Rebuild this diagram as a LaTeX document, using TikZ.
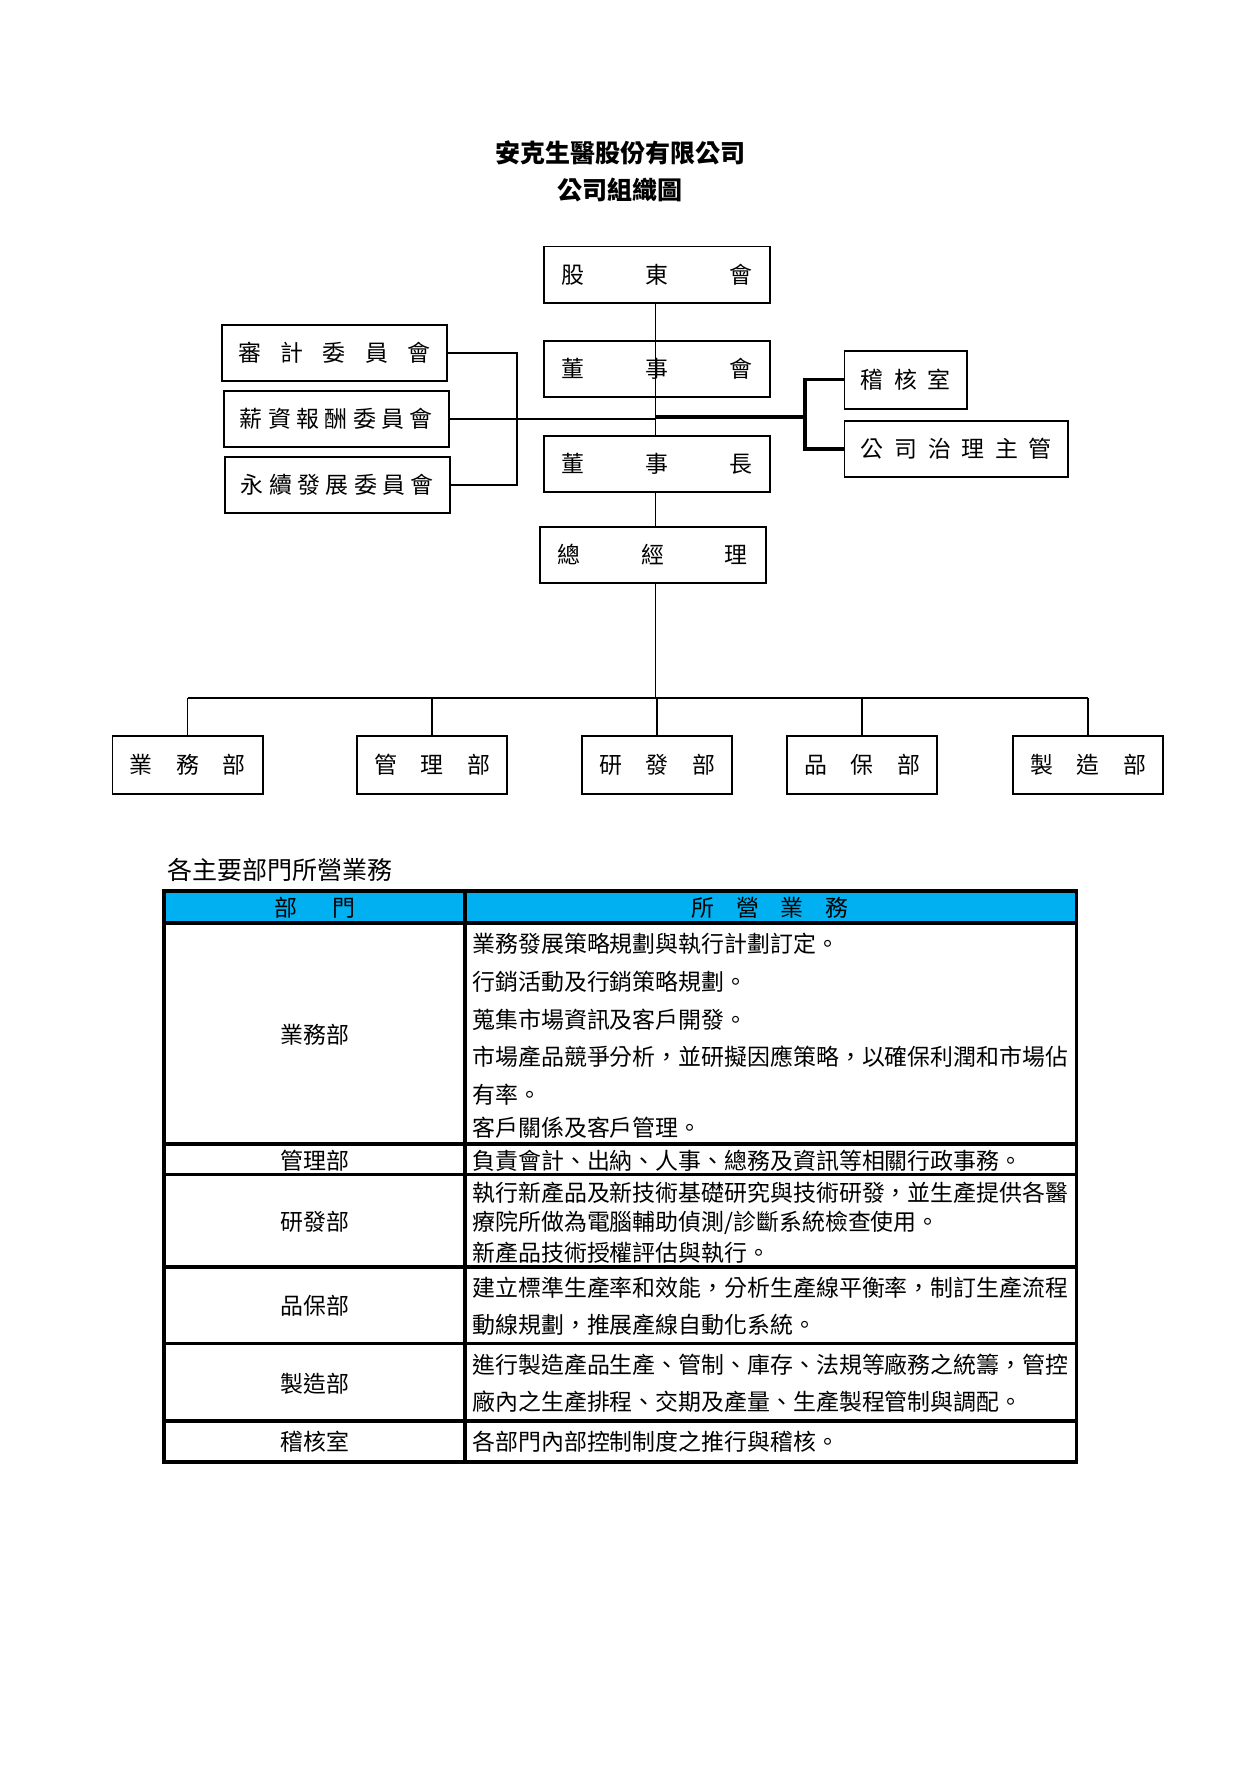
\documentclass[tikz,border=0pt]{standalone}
\usepackage{fontspec}
\newfontfamily\cjk{Noto Sans CJK TC}
\usetikzlibrary{calc}
\definecolor{headblue}{RGB}{0,176,240}
\begin{document}
\begin{tikzpicture}[x=0.48pt,y=-0.48pt,
  orgbox/.style={draw, line width=0.8pt, inner sep=0pt, anchor=north west,
    font=\cjk\fontsize{11pt}{13pt}\selectfont, text height=9.1pt, text depth=0.7pt},
  mainbox/.style={orgbox, minimum width=108.5pt, minimum height=27.1pt},
  combox/.style={orgbox, minimum width=108pt, minimum height=26.9pt},
  deptbox/.style={orgbox, minimum width=72.2pt, minimum height=27.8pt},
  conn/.style={line width=0.8pt},
  thickconn/.style={line width=1.6pt},
  tbl/.style={line width=1.6pt},
  tx/.style={anchor=west, inner sep=0pt, font=\cjk\fontsize{11pt}{13pt}\selectfont,
    text height=9.1pt, text depth=0.7pt},
  lbl/.style={tx, anchor=center},
  titletext/.style={anchor=center, inner sep=0pt, font=\cjk\bfseries\fontsize{12pt}{14pt}\selectfont,
    text height=9.9pt, text depth=0.8pt},
  captext/.style={anchor=west, inner sep=0pt, font=\cjk\fontsize{12pt}{14pt}\selectfont,
    text height=9.9pt, text depth=0.8pt}
]
\useasboundingbox[fill=white] (0,0) rectangle (1241,1766);

% titles
\node[titletext] (t1) at (620,153) {安克生醫股份有限公司};
\node[titletext] (t2) at (620,190) {公司組織圖};

% main chain
\node[mainbox] (gudong) at (543,245.5) {\makebox[91.7pt]{股\hfill 東\hfill 會}};
\node[mainbox] (dongshihui) at (543,340) {\makebox[91.7pt]{董\hfill 事\hfill 會}};
\node[mainbox] (dongshizhang) at (543,435) {\makebox[91.7pt]{董\hfill 事\hfill 長}};
\node[mainbox] (zongjingli) at (539,526) {\makebox[91.2pt]{總\hfill 經\hfill 理}};

% committees
\node[combox] (shenji) at (221,324) {\makebox[92pt]{審\hfill 計\hfill 委\hfill 員\hfill 會}};
\node[combox] (xinzi) at (223,390) {\makebox[92.5pt]{薪\hfill 資\hfill 報\hfill 酬\hfill 委\hfill 員\hfill 會}};
\node[combox] (yongxu) at (224,456) {\makebox[92.5pt]{永\hfill 續\hfill 發\hfill 展\hfill 委\hfill 員\hfill 會}};

% right side
\node[orgbox, minimum width=58.8pt, minimum height=27.8pt] (jihe) at (843.5,350) {\makebox[43.2pt]{稽\hfill 核\hfill 室}};
\node[orgbox, minimum width=107.5pt, minimum height=26.9pt] (zhili) at (843.5,420) {\makebox[91.7pt]{公\hfill 司\hfill 治\hfill 理\hfill 主\hfill 管}};

% departments
\node[deptbox] (yewu) at (111.5,735) {\makebox[55.7pt]{業\hfill 務\hfill 部}};
\node[deptbox] (guanli) at (356,735) {\makebox[55.7pt]{管\hfill 理\hfill 部}};
\node[deptbox] (yanfa) at (581,735) {\makebox[55.7pt]{研\hfill 發\hfill 部}};
\node[deptbox] (pinbao) at (786,735) {\makebox[55.7pt]{品\hfill 保\hfill 部}};
\node[deptbox] (zhizao) at (1012,735) {\makebox[55.7pt]{製\hfill 造\hfill 部}};

% helper coordinates
\coordinate (mid) at (655.5,417);
\coordinate (lbx) at (517,417);
\coordinate (rbx) at (805,417);
\coordinate (bus) at (655.5,698);

% central connectors
\draw[conn] (gudong.south -| mid) -- (dongshihui.south -| mid |- dongshihui.north);
\draw[conn] (dongshihui.south -| mid) -- (dongshizhang.north -| mid);
\draw[conn] (dongshizhang.south -| mid) -- (zongjingli.north -| mid);
\draw[conn] (zongjingli.south -| mid) -- (bus);

% committee bracket
\draw[conn] (shenji.east) -- (shenji.east -| lbx) -- (yongxu.east -| lbx) -- (yongxu.east);
\draw[conn] (xinzi.east) -- (xinzi.east -| mid);

% right bracket
\draw[thickconn] (mid) -- (rbx);
\draw[thickconn] (jihe.west) -- (jihe.west -| rbx) -- (zhili.west -| rbx) -- (zhili.west);

% department bus
\draw[conn] (yewu.north |- bus) -- (zhizao.north |- bus);
\foreach \d in {yewu,guanli,yanfa,pinbao,zhizao}
  \draw[conn] (\d.north |- bus) -- (\d.north);

% table caption
\node[captext] (cap) at (167,870.5) {各主要部門所營業務};

% table
\fill[headblue] (164,891) rectangle (1076.6,923);
\draw[tbl] (164,891) rectangle (1076.6,1462);
\foreach \yy in {923,1144,1174.6,1267,1343.5,1421}
  \draw[tbl] (164,\yy) -- (1076.6,\yy);
\draw[tbl] (465,891) -- (465,1462);

% header texts
\node[lbl] (h1) at (315,908) {\makebox[38.9pt]{部\hfill 門}};
\node[lbl] (h2) at (770,908) {\makebox[75pt]{所\hfill 營\hfill 業\hfill 務}};

% left labels
\node[lbl] (l1) at (315,1035) {業務部};
\node[lbl] (l2) at (315,1161) {管理部};
\node[lbl] (l3) at (315,1222) {研發部};
\node[lbl] (l4) at (315,1306) {品保部};
\node[lbl] (l5) at (315,1384) {製造部};
\node[lbl] (l6) at (315,1442) {稽核室};

% right texts
\node[tx] (r1a) at (472,944) {業務發展策略規劃與執行計劃訂定。};
\node[tx] (r1b) at (472,981.5) {行銷活動及行銷策略規劃。};
\node[tx] (r1c) at (472,1019.5) {蒐集市場資訊及客戶開發。};
\node[tx] (r1d) at (472,1057) {市場產品競爭分析，並研擬因應策略，以確保利潤和市場佔};
\node[tx] (r1e) at (472,1095) {有率。};
\node[tx] (r1f) at (472,1128) {客戶關係及客戶管理。};
\node[tx] (r2) at (472,1161) {負責會計、出納、人事、總務及資訊等相關行政事務。};
\node[tx] (r3a) at (472,1193) {執行新產品及新技術基礎研究與技術研發，並生產提供各醫};
\node[tx] (r3b) at (472,1222) {療院所做為電腦輔助偵測/診斷系統檢查使用。};
\node[tx] (r3c) at (472,1253) {新產品技術授權評估與執行。};
\node[tx] (r4a) at (472,1288) {建立標準生產率和效能，分析生產線平衡率，制訂生產流程};
\node[tx] (r4b) at (472,1325) {動線規劃，推展產線自動化系統。};
\node[tx] (r5a) at (472,1365) {進行製造產品生產、管制、庫存、法規等廠務之統籌，管控};
\node[tx] (r5b) at (472,1402) {廠內之生產排程、交期及產量、生產製程管制與調配。};
\node[tx] (r6) at (472,1442) {各部門內部控制制度之推行與稽核。};
\end{tikzpicture}
\end{document}
